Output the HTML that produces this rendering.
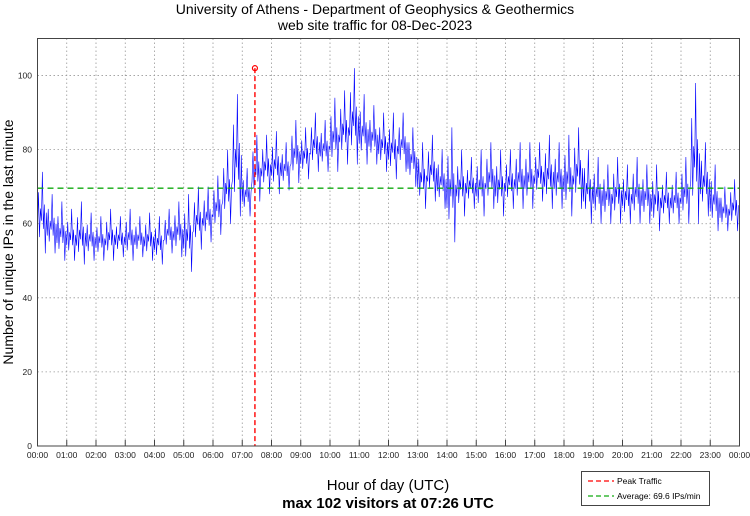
<!DOCTYPE html>
<html><head><meta charset="utf-8">
<style>
body{margin:0;background:#fff;width:750px;height:511px;overflow:hidden;font-family:"Liberation Sans",sans-serif}
</style></head>
<body>
<svg id="chart" width="750" height="511" xmlns="http://www.w3.org/2000/svg" font-family="Liberation Sans, sans-serif">
<text x="375" y="14" font-size="14" text-anchor="middle">University of Athens - Department of Geophysics &amp; Geothermics</text>
<text x="375" y="30" font-size="14" text-anchor="middle">web site traffic for 08-Dec-2023</text>
<text transform="translate(13,242) rotate(-90)" font-size="14" text-anchor="middle">Number of unique IPs in the last minute</text>
<text x="388" y="490" font-size="15" text-anchor="middle">Hour of day (UTC)</text>
<text x="388" y="508" font-size="15" font-weight="bold" text-anchor="middle">max 102 visitors at 07:26 UTC</text>
<g id="grid"></g>
<g id="series"></g>
<g id="overlay"></g>
<rect x="37.5" y="38.5" width="702" height="407.5" fill="none" stroke="#444" stroke-width="1"/>
<g>
<rect x="581.5" y="471.5" width="128" height="34" fill="#fff" stroke="#444"/>
<line x1="588" y1="481" x2="614" y2="481" stroke="red" stroke-width="1.3" stroke-dasharray="5,3"/>
<text x="617" y="484" font-size="8.5">Peak Traffic</text>
<line x1="588" y1="496" x2="614" y2="496" stroke="#1a1" stroke-width="1.3" stroke-dasharray="5,3"/>
<text x="617" y="499" font-size="8.5">Average: 69.6 IPs/min</text>
</g>
</svg>
<script>
const hourLabels=["00:00","01:00","02:00","03:00","04:00","05:00","06:00","07:00","08:00","09:00","10:00","11:00","12:00","13:00","14:00","15:00","16:00","17:00","18:00","19:00","20:00","21:00","22:00","23:00","00:00"];
const yTicks=[0,20,40,60,80,100];
// 20-minute bins: high and low extremes of visitors
const binHigh=[74,68,66,64,66,63,62,64,62,64,62,63,62,64,66,68,70,70,73,80,95,75,84,84,85,82,88,86,90,88,94,96,102,95,92,90,90,90,86,82,84,80,86,80,78,80,82,80,80,82,82,82,84,82,84,86,80,78,76,78,76,78,76,76,74,74,78,98,82,76,70,72];
const binLow=[52,52,50,50,49,50,50,50,51,50,51,50,49,52,51,47,53,55,57,60,62,62,66,68,68,69,71,72,74,74,74,76,76,76,76,74,72,74,70,64,66,64,55,62,64,62,64,62,64,64,64,66,64,64,62,64,60,60,60,60,60,60,60,58,60,60,60,60,62,58,58,58];
const peakMinute=446, peakValue=102, averageValue=69.6;
const NS="http://www.w3.org/2000/svg";
const X0=37.5,X1=739.5,Y0=446,YMAX=110,YTOP=38.5;
const xs=m=>X0+m/1440*(X1-X0);
const ys=v=>Y0-v/YMAX*(Y0-YTOP);
function mk(t,a,p){const e=document.createElementNS(NS,t);for(const k in a)e.setAttribute(k,a[k]);p.appendChild(e);return e;}
const grid=document.getElementById('grid');
hourLabels.forEach((l,i)=>{
 const x=xs(i*60);
 if(i>0&&i<24){const g=mk('line',{x1:x,y1:YTOP,x2:x,y2:Y0,stroke:'#999','stroke-width':0.8,'stroke-dasharray':'1.5,2.5'},grid);
 }
 const tk=mk('line',{x1:x,y1:Y0,x2:x,y2:Y0-6,stroke:'#444'},grid);
 
 const t=mk('text',{x:x,y:458,'font-size':8.5,'text-anchor':'middle',fill:'#222'},grid);t.textContent=l;
 
});
yTicks.forEach(v=>{
 const y=ys(v);
 if(v>0){const g=mk('line',{x1:X0,y1:y,x2:X1,y2:y,stroke:'#999','stroke-width':0.8,'stroke-dasharray':'1.5,2.5'},grid);
 }
 const t=mk('text',{x:32,y:y+3,'font-size':8.5,'text-anchor':'end',fill:'#222'},grid);t.textContent=v;
 
});
// series: zigzag within each bin between low and high
const frac=[0.3,0.75,0.2,0.55,0.4,1,0.3,0.6,0.0,0.5];
let pts=[];
binHigh.forEach((h,i)=>{
 const lo=binLow[i];
 frac.forEach((f,j)=>{
  const m=i*20+j*2;
  pts.push(xs(m).toFixed(2)+','+ys(lo+(h-lo)*f).toFixed(2));
 });
});
const s=mk('polyline',{points:pts.join(' '),fill:'none',stroke:'#00f','stroke-width':0.6},document.getElementById('series'));

const ov=document.getElementById('overlay');
const av=mk('line',{x1:X0,y1:ys(averageValue),x2:X1,y2:ys(averageValue),stroke:'#1a1','stroke-width':1.4,'stroke-dasharray':'6,4'},ov);

const pk=mk('line',{x1:xs(peakMinute),y1:ys(peakValue),x2:xs(peakMinute),y2:Y0,stroke:'red','stroke-width':1.4,'stroke-dasharray':'5,3'},ov);

const pc=mk('circle',{cx:xs(peakMinute),cy:ys(peakValue),r:2.5,fill:'none',stroke:'red','stroke-width':1.2},ov);

</script>
</body></html>
